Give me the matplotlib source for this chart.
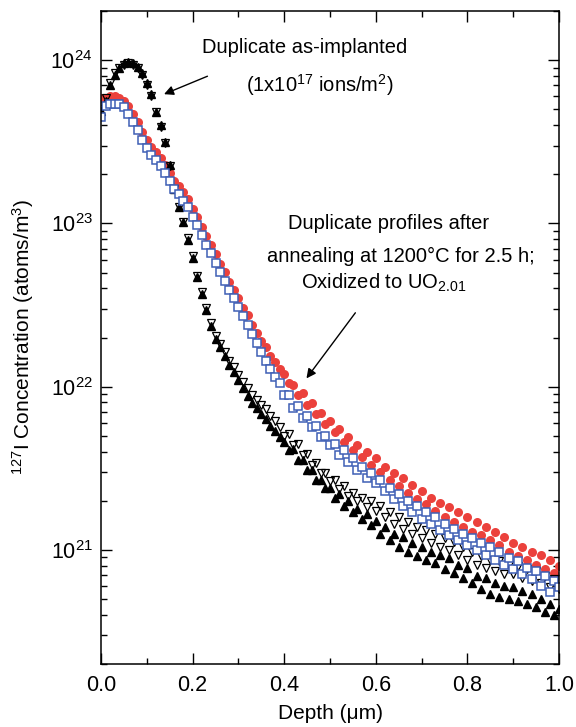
import numpy as np
import matplotlib
matplotlib.use("Agg")
import matplotlib.pyplot as plt
from matplotlib.ticker import MultipleLocator

plt.rcParams['font.family'] = ['Liberation Sans', 'DejaVu Sans']
plt.rcParams['mathtext.fontset'] = 'custom'
plt.rcParams['mathtext.rm'] = 'Liberation Sans'
plt.rcParams['mathtext.it'] = 'Liberation Sans:italic'
plt.rcParams['mathtext.bf'] = 'Liberation Sans:bold'

# --- data: depth in um, log10 of concentration (atoms/m^3) ---
depth = np.round(np.arange(101) * 0.01, 2)

# as-implanted, filled up-triangles
implant_a = [
    23.69, 23.75, 23.85, 23.91, 23.95, 23.98, 23.99, 23.98, 23.96, 23.92,
    23.86, 23.79, 23.68, 23.60, 23.50, 23.36, 23.21, 23.10, 23.01, 22.90,
    22.79, 22.67, 22.57, 22.47, 22.37, 22.29, 22.24, 22.19, 22.13, 22.09,
    22.04, 21.99, 21.94, 21.90, 21.87, 21.83, 21.80, 21.76, 21.73, 21.69,
    21.66, 21.61, 21.62, 21.55, 21.55, 21.49, 21.49, 21.43, 21.43, 21.38,
    21.38, 21.32, 21.34, 21.27, 21.30, 21.23, 21.25, 21.19, 21.22, 21.15,
    21.18, 21.10, 21.14, 21.06, 21.10, 21.02, 21.08, 20.99, 21.04, 20.96,
    21.02, 20.94, 20.99, 20.92, 20.97, 20.88, 20.95, 20.86, 20.91, 20.83,
    20.89, 20.80, 20.84, 20.76, 20.83, 20.73, 20.80, 20.71, 20.78, 20.70,
    20.77, 20.69, 20.75, 20.67, 20.73, 20.65, 20.70, 20.62, 20.67, 20.60,
    20.64]

# as-implanted duplicate, open down-triangles
implant_b = [
    23.70, 23.77, 23.86, 23.92, 23.95, 23.97, 23.98, 23.97, 23.95, 23.91,
    23.85, 23.78, 23.68, 23.59, 23.49, 23.35, 23.21, 23.10, 23.01, 22.91,
    22.80, 22.68, 22.58, 22.48, 22.39, 22.31, 22.26, 22.21, 22.16, 22.12,
    22.07, 22.03, 21.99, 21.95, 21.92, 21.89, 21.86, 21.82, 21.79, 21.75,
    21.70, 21.71, 21.64, 21.65, 21.58, 21.59, 21.52, 21.53, 21.47, 21.47,
    21.42, 21.43, 21.37, 21.39, 21.33, 21.35, 21.30, 21.32, 21.26, 21.30,
    21.24, 21.27, 21.20, 21.23, 21.16, 21.20, 21.13, 21.17, 21.10, 21.14,
    21.07, 21.12, 21.04, 21.10, 21.02, 21.07, 21.00, 21.05, 20.97, 21.02,
    20.94, 20.99, 20.91, 20.96, 20.89, 20.94, 20.87, 20.93, 20.85, 20.91,
    20.85, 20.90, 20.83, 20.88, 20.81, 20.87, 20.80, 20.84, 20.77, 20.82,
    20.76]

# annealed 1200 C / 2.5 h, red filled circles
anneal_a = [
    23.77, 23.77, 23.78, 23.78, 23.77, 23.75, 23.72, 23.67, 23.62, 23.56,
    23.51, 23.47, 23.44, 23.40, 23.36, 23.31, 23.26, 23.23, 23.19, 23.15,
    23.09, 23.04, 22.98, 22.92, 22.87, 22.81, 22.75, 22.70, 22.64, 22.59,
    22.54, 22.48, 22.44, 22.38, 22.33, 22.28, 22.24, 22.19, 22.15, 22.11,
    22.08, 22.02, 22.01, 21.95, 21.96, 21.89, 21.90, 21.83, 21.84, 21.77,
    21.79, 21.72, 21.74, 21.66, 21.69, 21.61, 21.64, 21.57, 21.60, 21.52,
    21.56, 21.48, 21.51, 21.43, 21.47, 21.39, 21.44, 21.35, 21.40, 21.31,
    21.36, 21.28, 21.32, 21.24, 21.29, 21.20, 21.26, 21.17, 21.23, 21.14,
    21.20, 21.11, 21.17, 21.09, 21.14, 21.06, 21.11, 21.03, 21.08, 20.99,
    21.04, 20.96, 21.02, 20.94, 20.99, 20.91, 20.97, 20.88, 20.94, 20.86,
    20.90]

# annealed duplicate, blue open squares
anneal_b = [
    23.65, 23.72, 23.73, 23.73, 23.73, 23.71, 23.67, 23.62, 23.57, 23.51,
    23.46, 23.42, 23.39, 23.35, 23.31, 23.26, 23.21, 23.18, 23.14, 23.10,
    23.04, 22.99, 22.93, 22.87, 22.82, 22.76, 22.70, 22.65, 22.59, 22.54,
    22.49, 22.43, 22.38, 22.32, 22.27, 22.21, 22.16, 22.11, 22.06, 22.02,
    21.95, 21.95, 21.87, 21.88, 21.81, 21.82, 21.75, 21.76, 21.69, 21.70,
    21.64, 21.65, 21.58, 21.61, 21.54, 21.56, 21.49, 21.51, 21.44, 21.47,
    21.41, 21.43, 21.36, 21.38, 21.31, 21.34, 21.27, 21.30, 21.23, 21.27,
    21.19, 21.23, 21.16, 21.20, 21.12, 21.16, 21.09, 21.13, 21.06, 21.10,
    21.03, 21.07, 21.00, 21.04, 20.97, 21.02, 20.94, 20.99, 20.91, 20.95,
    20.88, 20.93, 20.85, 20.89, 20.82, 20.87, 20.78, 20.84, 20.74, 20.81,
    20.77]

# --- plot ---
fig = plt.figure(figsize=(5.76, 7.27), dpi=100)
ax = fig.add_axes([101 / 576, 1 - 664 / 727, 458 / 576, 653 / 727])

ax.plot(depth, 10 ** np.array(anneal_a), 'o', ms=6.5, color='#eb413c', mec='none')
ax.plot(depth, 10 ** np.array(implant_b), 'v', ms=6, mfc='none', mec='black', mew=0.9)
ax.plot(depth, 10 ** np.array(implant_a), '^', ms=6, color='black', mec='black')
ax.plot(depth, 10 ** np.array(anneal_b), 's', ms=5.5, mfc='white', mec='#3f5fb5', mew=1.1)

ax.set_yscale('log')
ax.set_xlim(0, 1.0)
ax.set_ylim(2e20, 2e24)
ax.xaxis.set_major_locator(MultipleLocator(0.2))
ax.xaxis.set_minor_locator(MultipleLocator(0.1))
ax.xaxis.set_major_formatter(plt.FormatStrFormatter('%.1f'))

ax.tick_params(which='both', direction='in', top=True, right=True, width=1.0)
ax.tick_params(which='major', length=8, labelsize=15.5)
ax.tick_params(which='minor', length=4.5)
ax.tick_params(axis='x', pad=8)
ax.tick_params(axis='y', pad=6)
for s in ax.spines.values():
    s.set_linewidth(1.1)

ax.set_xlabel('Depth (μm)', fontsize=15, labelpad=6)
ax.set_ylabel('$^{127}$I Concentration (atoms/m$^3$)', fontsize=15, labelpad=10)

# annotations
ax.text(0.445, 1.2e24, 'Duplicate as-implanted', fontsize=14.5, ha='center', va='center')
ax.text(0.478, 7.0e23, '(1x10$^{17}$ ions/m$^2$)', fontsize=14.5, ha='center', va='center')
ax.annotate('', xy=(0.132, 10 ** 23.785), xytext=(0.238, 10 ** 23.908),
            arrowprops=dict(arrowstyle='-|>', color='black', lw=1, mutation_scale=14))

ax.text(0.627, 1.0e23, 'Duplicate profiles after', fontsize=14.5, ha='center', va='center')
ax.text(0.655, 6.3e22, 'annealing at 1200°C for 2.5 h;', fontsize=14.5, ha='center', va='center')
ax.text(0.618, 4.3e22, 'Oxidized to UO$_{2.01}$', fontsize=14.5, ha='center', va='center')
ax.annotate('', xy=(0.445, 10 ** 22.037), xytext=(0.559, 10 ** 22.466),
            arrowprops=dict(arrowstyle='-|>', color='black', lw=1, mutation_scale=14))

fig.savefig('out.png', dpi=100)
